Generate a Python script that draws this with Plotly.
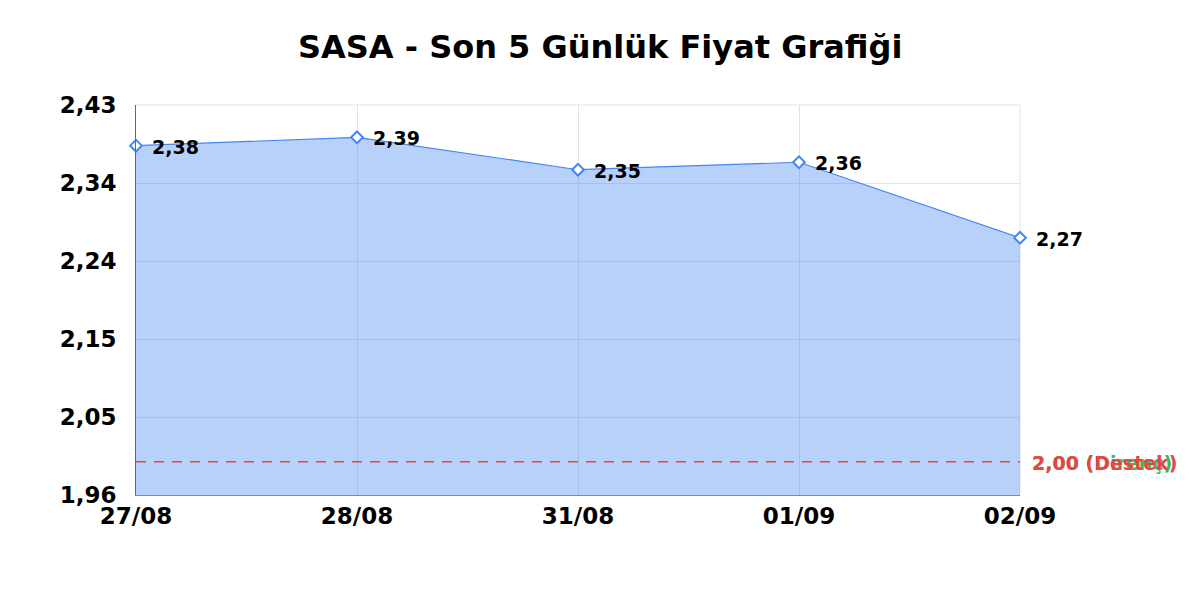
import numpy as np
import plotly.graph_objects as go

# Veriler
tarihler = ["27/08", "28/08", "31/08", "01/09", "02/09"]
fiyatlar = [2.381, 2.391, 2.352, 2.361, 2.270]
destek = 2.00
direnc = 2.00
y_min, y_max = 1.96, 2.43

MAVI = "#4285F4"
KIRMIZI = "#EA4545"
YESIL = "#2EBD59"
GRID = "#e3e3e3"
FONT = "DejaVu Sans, Arial, sans-serif"


def tr_sayi(v: float) -> str:
    return f"{v:.2f}".replace(".", ",")


fig = go.Figure()
fig.add_trace(go.Scatter(
    x=tarihler, y=fiyatlar, mode="lines+markers",
    fill="tozeroy", fillcolor="rgba(66,133,244,0.38)",
    line={"color": MAVI, "width": 1.2},
    marker={"symbol": "diamond", "size": 9, "color": "white",
            "line": {"color": MAVI, "width": 2}},
    cliponaxis=False, showlegend=False, hoverinfo="skip",
))

# üst ve sağ kenardaki ızgara çizgileri
fig.add_shape(type="line", xref="paper", yref="paper", x0=0, x1=1, y0=1, y1=1,
              line={"color": GRID, "width": 1}, layer="below")
fig.add_shape(type="line", xref="paper", yref="paper", x0=1, x1=1, y0=0, y1=1,
              line={"color": GRID, "width": 1}, layer="below")

# destek / direnç çizgileri (direnç altta, destek üstte)
for deger, renk, etiket in [(direnc, YESIL, "Direnç"), (destek, KIRMIZI, "Destek")]:
    fig.add_hline(y=deger, line_color=renk, line_dash="10px,8px", line_width=1.5,
                  opacity=1 if renk == KIRMIZI else 0.0)
    fig.add_annotation(x=1, xref="paper", y=deger, yref="y", xanchor="left",
                       xshift=10, yshift=-1, showarrow=False,
                       text=f"{tr_sayi(deger)} ({etiket})",
                       font={"family": FONT, "size": 19, "color": renk, "weight": "bold"})

for t, v in zip(tarihler, fiyatlar):
    fig.add_annotation(x=t, y=v, xanchor="left", yanchor="middle", xshift=14, yshift=-1,
                       showarrow=False, text=tr_sayi(v),
                       font={"family": FONT, "size": 19, "color": "black", "weight": "bold"})

fig.update_layout(
    width=1200, height=600,
    margin={"l": 128, "r": 188, "t": 97, "b": 113},
    paper_bgcolor="white", plot_bgcolor="white",
    separators=",.",
    title={"text": "<b>SASA - Son 5 Günlük Fiyat Grafiği</b>", "x": 0.4935, "y": 0.935,
           "xanchor": "center", "yanchor": "middle",
           "font": {"family": FONT, "size": 32, "color": "black"}},
    xaxis={"type": "category", "range": [0, len(tarihler) - 1],
           "showgrid": True, "gridcolor": GRID, "zeroline": False,
           "showline": True, "linecolor": "#888888", "linewidth": 1,
           "ticks": "", "ticklen": 0,
           "tickfont": {"family": FONT, "size": 23, "color": "black", "weight": "bold"}},
    yaxis={"range": [y_min, y_max], "tickvals": np.linspace(y_min, y_max, 6),
           "tickformat": ".2f", "showgrid": True, "gridcolor": GRID,
           "zeroline": False, "showline": True, "linecolor": "#666666", "linewidth": 1,
           "ticks": "", "ticklabelstandoff": 14,
           "tickfont": {"family": FONT, "size": 23, "color": "black", "weight": "bold"}},
)

fig.write_html("out.html")
